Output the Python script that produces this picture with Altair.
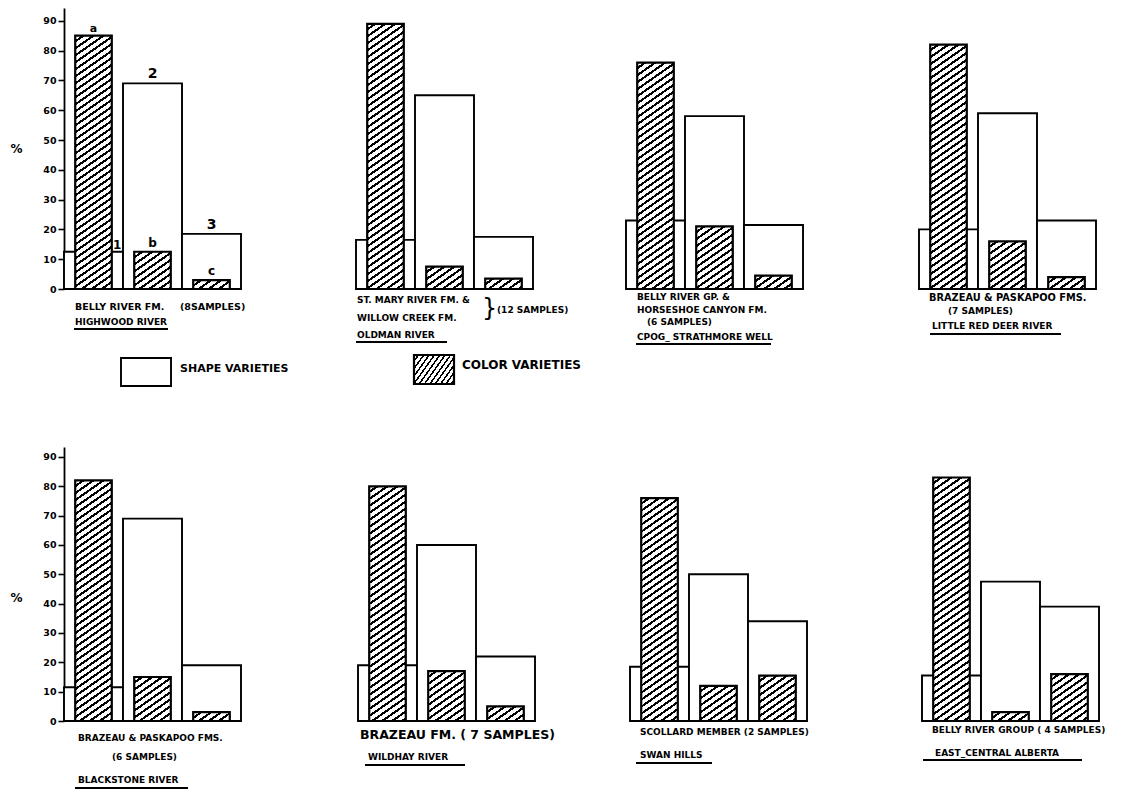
import altair as alt
import pandas as pd

# ---------------- data ----------------
shape_numbers = ["1", "2", "3"]
color_letters = ["a", "b", "c"]

# % of shape varieties (white bars 1,2,3) per panel
shape_varieties = [
    [12.5, 69.0, 18.5],
    [16.5, 65.0, 17.5],
    [23.0, 58.0, 21.5],
    [20.0, 59.0, 23.0],
    [11.5, 69.0, 19.0],
    [19.0, 60.0, 22.0],
    [18.5, 50.0, 34.0],
    [15.5, 47.5, 39.0],
]
# % of color varieties (hatched bars a,b,c) per panel
color_varieties = [
    [85.0, 12.5, 3.0],
    [89.0, 7.5, 3.5],
    [76.0, 21.0, 4.5],
    [82.0, 16.0, 4.0],
    [82.0, 15.0, 3.0],
    [80.0, 17.0, 5.0],
    [76.0, 12.0, 15.5],
    [83.0, 3.0, 16.0],
]
y_ticks = [0, 10, 20, 30, 40, 50, 60, 70, 80, 90]

captions = [
    ["BELLY RIVER FM.", "(8SAMPLES)", "HIGHWOOD RIVER"],
    ["ST. MARY RIVER FM.  &", "WILLOW CREEK FM.", "}", "(12 SAMPLES)", "OLDMAN RIVER"],
    ["BELLY RIVER GP.  &", "HORSESHOE CANYON FM.", "(6 SAMPLES)", "CPOG_ STRATHMORE WELL"],
    ["BRAZEAU & PASKAPOO FMS.", "(7 SAMPLES)", "LITTLE RED DEER RIVER"],
    ["BRAZEAU & PASKAPOO FMS.", "(6 SAMPLES)", "BLACKSTONE RIVER"],
    ["BRAZEAU FM. ( 7 SAMPLES)", "WILDHAY RIVER"],
    ["SCOLLARD MEMBER (2 SAMPLES)", "SWAN HILLS"],
    ["BELLY RIVER GROUP ( 4 SAMPLES)", "EAST_CENTRAL ALBERTA"],
]
legend_labels = ["SHAPE VARIETIES", "COLOR VARIETIES"]

# ---------------- layout (pixels) ----------------
STEP = 59.0
HATCH_BAND = 0.62
col_widths = [292, 270, 293, 200]
# offset of the first bar from the panel's left edge, per panel
bar_offsets = [0, 0, 0, 0, 0, 2, 4, 3]
row_heights = [281, 274]
row_ymax = [94.3, 93.4]
row_title_y = [140, 150]
ROW_GAP = 158

# (dx, dy, size, weight) for each caption line, relative to panel left / baseline
caption_layout = [
    [(11, 18, 9.5, "bold"), (116, 18, 9.5, "bold"), (11, 33, 9, "bold")],
    [(1, 11, 9, "bold"), (1, 29, 9, "bold"), (126, 20, 24, "normal"), (141, 21, 9, "bold"), (1, 46, 9, "bold")],
    [(11, 8, 9, "bold"), (11, 21, 9, "bold"), (21, 33, 9, "bold"), (11, 48, 9, "bold")],
    [(10, 9, 9.8, "bold"), (29, 22, 9, "bold"), (13, 37, 9, "bold")],
    [(14, 17, 9, "bold"), (48, 36, 9, "bold"), (14, 59, 9, "bold")],
    [(4, 14, 12.5, "bold"), (12, 36, 9, "bold")],
    [(14, 11, 9, "bold"), (14, 34, 9, "bold")],
    [(13, 9, 9, "bold"), (16, 32, 9, "bold")],
]
# underline (x1, x2, dy) under the locality name
underline_layout = [
    (10, 104, 40), (0, 91, 53), (10, 145, 55), (11, 142, 45),
    (11, 124, 67), (9, 109, 44), (10, 86, 42), (4, 163, 39),
]

FONT = "DejaVu Sans"


def hatch(w, h, slope=0.7, period=7.0, line=2.6):
    """Linear gradient with hard stops that looks like '/' hatching."""
    h = max(h, 1.0)
    L = slope * w + h
    k = L / (slope ** 2 * w ** 2 + h ** 2)
    x2 = k * slope * w
    y2 = k * h
    stops = [{"offset": 0, "color": "white"}]
    m = 0
    while True:
        a = (m * period + period - line) / L
        b = (m * period + period) / L
        if a >= 1:
            break
        b = min(b, 1.0)
        a = round(a, 5)
        b = round(b, 5)
        stops += [
            {"offset": a, "color": "white"},
            {"offset": a, "color": "black"},
            {"offset": b, "color": "black"},
            {"offset": b, "color": "white"},
        ]
        m += 1
    stops.append({"offset": 1, "color": "white"})
    return {"gradient": "linear", "x1": 0, "y1": 0, "x2": round(x2, 5), "y2": round(y2, 5), "stops": stops}


def panel(i):
    row, col = divmod(i, 4)
    W = col_widths[col]
    H = row_heights[row]
    ymax = row_ymax[row]
    df = pd.DataFrame({
        "bar": shape_numbers,
        "shape": shape_varieties[i],
        "letter": color_letters,
        "color": color_varieties[i],
    })
    po = (W / STEP - 3) / 2
    align = bar_offsets[i] / (W - 3 * STEP)
    xs = alt.Scale(domain=shape_numbers, paddingInner=0, paddingOuter=po, align=align)
    ys = alt.Scale(domain=[0, ymax], nice=False, zero=True)
    if col == 0:
        yaxis = alt.Axis(
            values=y_ticks, title="%", titleAngle=0, titleX=-54, titleY=row_title_y[row],
            titleAlign="left", titleBaseline="middle", titleFont=FONT, titleFontSize=12,
            titleFontWeight="bold", titleColor="black",
            labelFont=FONT, labelFontSize=9.5, labelFontWeight="bold", labelColor="black",
            labelPadding=2, tickSize=6, tickWidth=1.6, tickColor="black",
            domainColor="black", domainWidth=1.8, grid=False,
        )
    else:
        yaxis = None
    base = alt.Chart(df)
    xenc = alt.X("bar:N", scale=xs, axis=None, sort=shape_numbers)
    layers = [
        base.mark_bar(fill="white", stroke="black", strokeWidth=1.9).encode(
            x=xenc, y=alt.Y("shape:Q", scale=ys, axis=yaxis)
        )
    ]
    px = H / ymax
    for j in range(3):
        v = color_varieties[i][j]
        layers.append(
            base.transform_filter(alt.datum.letter == color_letters[j])
            .mark_bar(fill=hatch(STEP * HATCH_BAND, v * px), stroke="black", strokeWidth=2.2,
                      width={"band": HATCH_BAND})
            .encode(x=xenc, y=alt.Y("color:Q", scale=ys, axis=yaxis))
        )
    dummy = alt.Data(values=[{"k": 1}])
    if i == 0:
        lab = pd.DataFrame({
            "bar": shape_numbers + shape_numbers[1:],
            "val": color_varieties[i] + shape_varieties[i][1:],
            "txt": color_letters + shape_numbers[1:],
            "size": [11, 12, 12, 14, 14],
        })
        layers.append(
            alt.Chart(lab).mark_text(baseline="bottom", dy=-2, font=FONT, fontWeight="bold", color="black")
            .encode(x=xenc, y=alt.Y("val:Q", scale=ys, axis=yaxis), text="txt:N",
                    size=alt.Size("size:Q", scale=None, legend=None))
        )
        one = pd.DataFrame({"bar": ["1"], "val": [shape_varieties[i][0]], "txt": ["1"]})
        layers.append(
            alt.Chart(one).mark_text(baseline="bottom", dy=0, font=FONT, fontWeight="bold",
                                     fontSize=12, color="black")
            .encode(x=alt.X("bar:N", scale=xs, axis=None, sort=shape_numbers, bandPosition=0.9),
                    y=alt.Y("val:Q", scale=ys, axis=yaxis), text="txt:N")
        )
        # legend between the two rows (drawn below the first panel)
        layers += [
            alt.Chart(dummy).mark_rect(fill="white", stroke="black", strokeWidth=1.9).encode(
                x=alt.value(57), x2=alt.value(107), y=alt.value(H + 69), y2=alt.value(H + 97)),
            alt.Chart(dummy).mark_rect(fill=hatch(40, 29, slope=1.4, period=7.5, line=2.6), stroke="black",
                                       strokeWidth=2.2).encode(
                x=alt.value(350), x2=alt.value(390), y=alt.value(H + 66), y2=alt.value(H + 95)),
            alt.Chart(dummy).mark_text(align="left", baseline="middle", font=FONT, fontSize=11,
                                       fontWeight="bold", color="black").encode(
                x=alt.value(116), y=alt.value(H + 80), text=alt.value(legend_labels[0])),
            alt.Chart(dummy).mark_text(align="left", baseline="middle", font=FONT, fontSize=12,
                                       fontWeight="bold", color="black").encode(
                x=alt.value(398), y=alt.value(H + 76), text=alt.value(legend_labels[1])),
        ]
    for line, (dx, dy, size, weight) in zip(captions[i], caption_layout[i]):
        layers.append(
            alt.Chart(dummy).mark_text(align="left", baseline="middle", font=FONT, fontSize=size,
                                       fontWeight=weight, color="black")
            .encode(x=alt.value(dx), y=alt.value(H + dy), text=alt.value(line))
        )
    ux1, ux2, udy = underline_layout[i]
    layers.append(
        alt.Chart(dummy).mark_rule(color="black", strokeWidth=1.8)
        .encode(x=alt.value(ux1), x2=alt.value(ux2), y=alt.value(H + udy))
    )
    return alt.layer(*layers).properties(width=W, height=H)


chart = alt.concat(
    *[panel(i) for i in range(8)],
    columns=4, spacing={"row": ROW_GAP, "column": 0}, bounds="flush",
).resolve_scale(
    x="independent", y="independent"
).properties(
    padding={"left": 2, "top": 0, "right": 2, "bottom": 0}, background="white"
).configure_view(stroke=None)

chart.save("out.html", embed_options={"renderer": "svg", "actions": False})
